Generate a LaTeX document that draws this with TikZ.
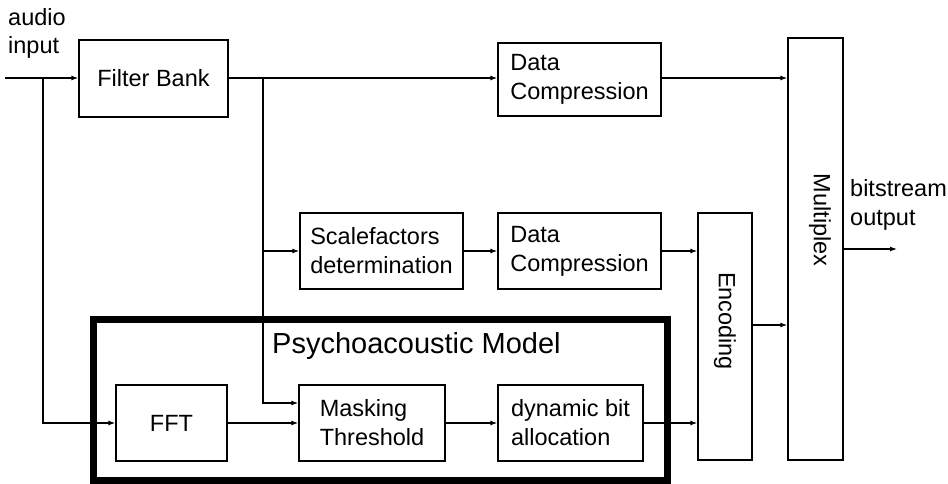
\documentclass[tikz,border=0pt]{standalone}
\usepackage{fontspec}
\setmainfont{Liberation Sans}
\usepackage{tikz}
\usetikzlibrary{arrows.meta, calc}

\tikzset{
    block/.style={draw, line width=1.3pt, inner sep=0pt, align=left,
        font=\fontsize{23.5}{29}\selectfont},
    arr/.style={line width=1.2pt, -{Latex[length=7pt,width=5pt]}},
    plain/.style={font=\fontsize{23.5}{28.5}\selectfont, inner sep=0pt, align=left}
}

\begin{document}
\begin{tikzpicture}[x=1pt, y=-1pt]
    \useasboundingbox (0,0) rectangle (948,484);

    \coordinate (in) at (5,78);
    \coordinate (split1) at (43,78);
    \coordinate (split2) at (263,78);
    \coordinate (out) at (897,249);

    \node[plain, anchor=base west] (inlabel) at (8,54) {audio\\input};
    \node[plain, anchor=base west] (outlabel) at (850,225) {bitstream\\output};

    \draw[line width=7pt] (93.5,319) rectangle (667,480.5);
    \node[plain, font=\fontsize{29}{34}\selectfont, anchor=base west] (psytitle) at (272,353) {Psychoacoustic Model};

    \node[block, minimum width=149pt, minimum height=77pt] (filterbank) at (153.5,78.5) {Filter Bank};
    \node[block, minimum width=163pt, minimum height=73pt] (datacomp1) at (579.5,79.5) {Data\\Compression};
    \node[block, minimum width=163pt, minimum height=76pt] (scalef) at (381.5,251) {Scalefactors\\determination};
    \node[block, minimum width=163pt, minimum height=76pt] (datacomp2) at (579.5,251) {Data\\Compression};
    \node[block, minimum width=111pt, minimum height=76pt] (fft) at (171.5,423) {FFT};
    \node[block, minimum width=146pt, minimum height=76pt] (masking) at (372,423) {Masking\\Threshold};
    \node[block, minimum width=145pt, minimum height=76pt] (dynbit) at (570.5,423) {dynamic bit\\allocation};
    \node[block, minimum width=54pt, minimum height=247pt] (encoding) at (725,336.5) {};
    \node[block, minimum width=55pt, minimum height=422pt] (multiplex) at (815.5,249) {};
    \node[plain, rotate=-90] (enclabel) at (725,321) {Encoding};
    \node[plain, rotate=-90] (muxlabel) at (820,220) {Multiplex};

    \draw[arr] (in) -- (filterbank.west |- in);
    \draw[line width=1.2pt] (filterbank.east |- split2) -- (split2);
    \draw[arr] (split2) -- (split2 -| datacomp1.west);
    \draw[arr] (split1) |- (fft);
    \draw[arr] (split2) |- (scalef);
    \draw[arr] (split2) |- ([yshift=20pt]masking.west);
    \draw[arr] (scalef) -- (datacomp2);
    \draw[arr] (datacomp2) -- (datacomp2 -| encoding.west);
    \draw[arr] (fft) -- (masking);
    \draw[arr] (masking) -- (dynbit);
    \draw[arr] (dynbit) -- (dynbit -| encoding.west);
    \draw[arr] (datacomp1.east |- split2) -- (split2 -| multiplex.west);
    \draw[arr] ([yshift=11.5pt]encoding.east) -- ([yshift=11.5pt]encoding.east -| multiplex.west);
    \draw[arr] (multiplex) -- (out);
\end{tikzpicture}
\end{document}
